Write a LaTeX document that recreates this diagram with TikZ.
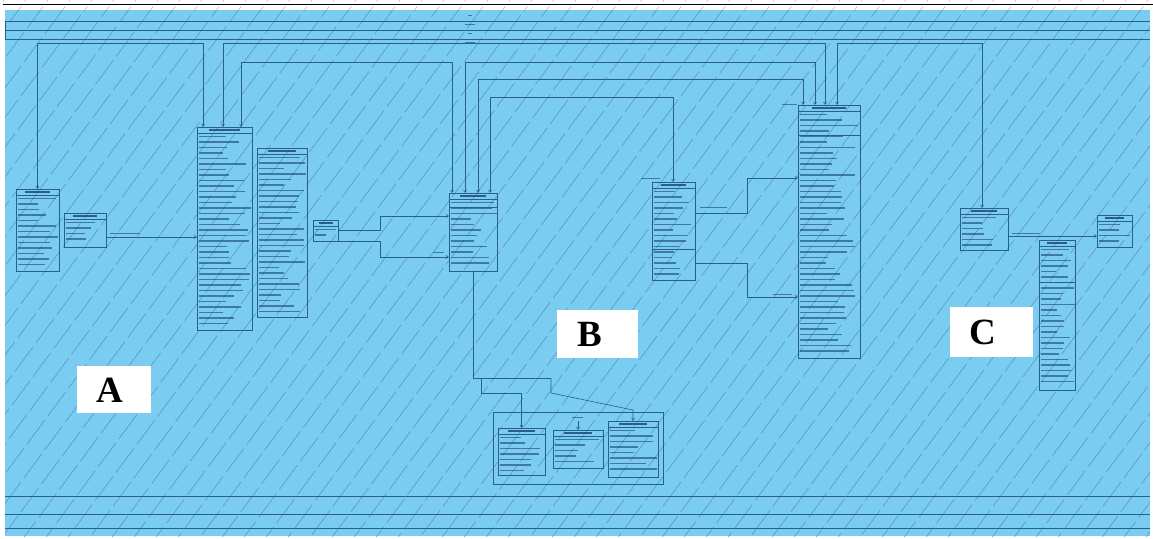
\documentclass[tikz,border=0pt]{standalone}
\usepackage{fontspec}
\setmainfont{Liberation Serif}
\usetikzlibrary{calc,arrows.meta}
\definecolor{bgblue}{RGB}{122,205,240}
\definecolor{hatch}{RGB}{75,135,180}
\definecolor{boxcol}{RGB}{40,95,140}
\definecolor{rowcol}{RGB}{25,65,110}
\definecolor{pinkmark}{RGB}{225,150,165}
\newcommand\umlclass[7]{%
  \node[classbox, minimum width=#4pt, minimum height=#5pt, anchor=north west] (#1) at (#2,#3) {};
  \draw[classline] ($(#1.north west)+(0,6)$) -- ($(#1.north east)+(0,6)$);
  \draw[titleline] ($(#1.north)+(-#4*0.28,3)$) -- ($(#1.north)+(#4*0.28,3)$);
  \foreach \i in {1,...,#6} {
    \pgfmathsetmacro\len{#4*(0.4+0.55*rnd)}
    \draw[rowline] ($(#1.north west)+(2,6+\i*5.5-2)$) -- ++(\len,0);
  }
  \ifnum#7>0 \draw[classline] ($(#1.north west)+(0,#7)$) -- ($(#1.north east)+(0,#7)$);\fi
}
\begin{document}
\begin{tikzpicture}[x=1pt,y=-1pt,
  classbox/.style={draw=boxcol, line width=0.6pt, inner sep=0pt, outer sep=0pt},
  classline/.style={draw=boxcol, line width=0.5pt},
  titleline/.style={draw=rowcol, line width=1.5pt, opacity=0.8},
  rowline/.style={draw=rowcol, line width=1.1pt, opacity=0.6},
  tinylabel/.style={draw=rowcol, line width=1pt, opacity=0.6},
  conn/.style={draw=boxcol, line width=0.6pt},
  tip/.style={-{Straight Barb[length=2.5pt,width=3pt]}},
  tips/.style={{Straight Barb[length=2.5pt,width=3pt]}-{Straight Barb[length=2.5pt,width=3pt]}},
  frameline/.style={draw=boxcol, line width=0.7pt},
  hatchline/.style={draw=hatch, line width=0.55pt, opacity=0.8},
  letterbox/.style={fill=white, draw=none, inner sep=0pt, outer sep=0pt},
  letter/.style={font=\fontsize{37}{40}\selectfont\bfseries, text=black, inner sep=0pt}
]
\pgfmathsetseed{7}
\useasboundingbox (0,0) rectangle (1153,538);
\fill[white] (0,0) rectangle (1153,538);
\fill[bgblue] (5,10) rectangle (1150,536);
% hatching
\begin{scope}
  \clip (5,10) rectangle (1150,536);
  \foreach \k in {-20,...,55} {
    \draw[hatchline, dash pattern=on 30pt off 5pt, dash phase=\k*7pt] (\k*22,540) -- ++(400,-540);
  }
\end{scope}
\begin{scope}
  \clip (0,0) rectangle (1153,10);
  \foreach \k in {-20,...,55} {
    \draw[draw=pinkmark, line width=0.5pt, dash pattern=on 4pt off 6pt] (\k*22,540) -- ++(400,-540);
  }
\end{scope}
\draw[line width=1.2pt] (3,4.5) -- (1153,4.5);
% frame lines
\draw[frameline] (5,21.5) -- (1150,21.5);
\draw[frameline] (5,30.5) -- (1150,30.5);
\draw[frameline] (5,39) -- (1150,39);
\draw[frameline] (5,21.5) -- (5,39);
\draw[frameline] (5,496) -- (1150,496);
\draw[frameline] (5,514) -- (1150,514);
\draw[frameline] (5,528) -- (1150,528);
\draw[tinylabel] (468,15) -- (472,15);
\draw[tinylabel] (465,24) -- (475,24);
\draw[tinylabel] (468,33) -- (472,33);
\draw[tinylabel] (465,42) -- (475,42);
% classes
\umlclass{A1}{16}{189}{43}{82}{13}{0}
\umlclass{A1b}{64}{213}{42}{34}{4}{0}
\umlclass{A2}{197}{127}{55}{203}{35}{0}
\umlclass{A3}{257}{148}{50}{169}{29}{0}
\umlclass{A4}{313}{220}{25}{21}{2}{0}
\umlclass{B1}{449}{193}{48}{78}{12}{14}
\umlclass{B2}{652}{182}{43}{98}{16}{67}
\umlclass{D}{798}{105}{62}{253}{44}{30}
\umlclass{C1}{960}{208}{48}{42}{6}{0}
\umlclass{C2}{1097}{215}{35}{32}{4}{0}
\umlclass{C3}{1039}{240}{36}{150}{25}{42}
\node[classbox, minimum width=170pt, minimum height=72pt, anchor=north west] (F) at (493,412) {};
\umlclass{S1}{498}{428}{47}{47}{7}{0}
\umlclass{S2}{553}{430}{50}{38}{5}{0}
\umlclass{S3}{608}{421}{50}{56}{8}{0}
% connectors along the top
\draw[conn,tips] (A1.north) |- ($(A2.north west)+(6,-84)$) -- ($(A2.north west)+(6,0)$);
\draw[conn,tips] ($(A2.north west)+(26,0)$) |- ($(D.north west)+(27,-62)$) -- ($(D.north west)+(27,0)$);
\draw[conn,tips] ($(A2.north west)+(44,0)$) |- ($(B1.north west)+(3,-131)$) -- ($(B1.north west)+(3,0)$);
\draw[conn,tips] ($(B1.north west)+(16,0)$) |- ($(D.north west)+(17,-43)$) -- ($(D.north west)+(17,0)$);
\draw[conn,tips] ($(B1.north west)+(29,0)$) |- ($(D.north west)+(5,-26)$) -- ($(D.north west)+(5,0)$);
\draw[conn,tips] ($(B1.north west)+(41,0)$) |- ($(B2.north west)+(21,-85)$) -- ($(B2.north west)+(21,0)$);
\draw[conn,tips] ($(D.north west)+(39,0)$) |- ($(C1.north west)+(22,-165)$) -- ($(C1.north west)+(22,0)$);
\draw[tinylabel] (782,104) -- (797,104);
\draw[tinylabel] (641,178) -- (660,178);
% side connectors
\draw[conn,tip] ($(A1b.north east)+(0,24)$) -- (A2.west |- {$(A1b.north east)+(0,24)$});
\draw[tinylabel] (110,233) -- (140,233);
\draw[conn,tip] ($(A4.north east)+(0,10)$) -- ++(42,0) |- ($(B1.north west)+(0,23)$);
\draw[conn,tip] (A4.south east) -- ++(42,0) |- ($(B1.north west)+(0,64)$);
\draw[tinylabel] (433,252) -- (444,252);
\draw[conn,tip] ($(B2.north east)+(0,31)$) -- ++(52,0) |- ($(D.north west)+(0,73)$);
\draw[tinylabel] (700,207) -- (727,207);
\draw[conn,tip] ($(B2.north east)+(0,81)$) -- ++(52,0) |- ($(D.north west)+(0,192)$);
\draw[tinylabel] (773,294) -- (792,294);
\draw[conn,tip] ($(C1.north east)+(0,28)$) -- (C2.west |- {$(C1.north east)+(0,28)$});
\draw[tinylabel] (1012,233) -- (1040,233);
% inheritance tree
\coordinate (J1) at ($(B1.south)+(0,107)$);
\draw[conn] (B1.south) -- (J1) -- ++(78,0);
\draw[conn,tip] ($(J1)+(8,0)$) -- ++(0,15) -| (S1.north);
\draw[conn,tip] ($(J1)+(78,0)$) -- ++(0,15) -- ($(S3.north)+(0,-11)$) -- (S3.north);
\draw[conn,tip] ($(S2.north)+(0,-9)$) -- (S2.north);
\draw[tinylabel] (572,417) -- (583,417);
% letter labels
\node[letterbox, minimum width=74pt, minimum height=47pt, anchor=north west] (LAbox) at (77,366) {};
\node[letter] (LA) at (110,390) {A};
\node[letterbox, minimum width=81pt, minimum height=48pt, anchor=north west] (LBbox) at (557,310) {};
\node[letter] (LB) at (590,334) {B};
\node[letterbox, minimum width=83pt, minimum height=50pt, anchor=north west] (LCbox) at (950,307) {};
\node[letter] (LC) at (983,332) {C};
\end{tikzpicture}
\end{document}
